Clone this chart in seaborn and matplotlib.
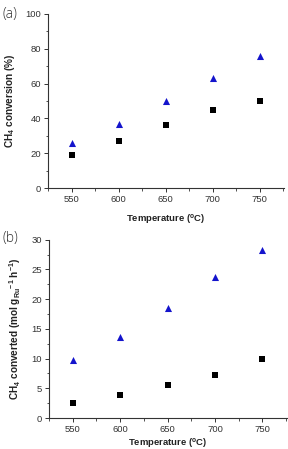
import matplotlib
matplotlib.use("Agg")
import matplotlib.pyplot as plt
import seaborn as sns
import pandas as pd
from matplotlib.ticker import MultipleLocator

temps = [550, 600, 650, 700, 750]
conv_square = [19, 27, 36.2, 44.8, 50.3]
conv_triangle = [26, 36.8, 50, 63, 76]
rate_square = [2.5, 3.8, 5.5, 7.3, 10.0]
rate_triangle = [9.8, 13.7, 18.6, 23.7, 28.3]

sns.set_theme(style="ticks")
plt.rcParams['font.family'] = ['Liberation Sans', 'DejaVu Sans']
plt.rcParams['mathtext.fontset'] = 'custom'
plt.rcParams['mathtext.rm'] = 'Liberation Sans'
plt.rcParams['mathtext.bf'] = 'Liberation Sans:bold'

fig = plt.figure(figsize=(2.88, 4.49), dpi=100)
ax1 = fig.add_axes([0.167, 0.581, 0.819, 0.388])
ax2 = fig.add_axes([0.170, 0.069, 0.827, 0.397])

df1 = pd.DataFrame({"T": temps, "sq": conv_square, "tri": conv_triangle})
df2 = pd.DataFrame({"T": temps, "sq": rate_square, "tri": rate_triangle})

for ax, df in [(ax1, df1), (ax2, df2)]:
    sns.scatterplot(data=df, x="T", y="sq", ax=ax, marker="s", color="black",
                    s=16, linewidth=0)
    sns.scatterplot(data=df, x="T", y="tri", ax=ax, marker="^", color="#1414cc",
                    s=26, linewidth=0)
    ax.set_xlim(525, 776)
    ax.xaxis.set_major_locator(MultipleLocator(50))
    ax.xaxis.set_minor_locator(MultipleLocator(25))
    for s in ["top", "right"]:
        ax.spines[s].set_visible(False)
    for s in ["left", "bottom"]:
        ax.spines[s].set_linewidth(0.8)
        ax.spines[s].set_color("#333333")
    ax.tick_params(which="major", direction="out", length=3, width=0.7,
                   labelsize=6.8, colors="#333333", pad=2)
    ax.tick_params(which="minor", direction="out", length=1.8, width=0.6,
                   colors="#333333")

ax1.set_xlabel("Temperature ($^\\mathbf{o}$C)", fontsize=6.8, fontweight="bold",
               color="#222222", labelpad=6)
ax2.set_xlabel("Temperature ($^\\mathbf{o}$C)", fontsize=6.8, fontweight="bold",
               color="#222222", labelpad=1.5)

ax1.set_ylim(0, 100)
ax1.yaxis.set_major_locator(MultipleLocator(20))
ax1.yaxis.set_minor_locator(MultipleLocator(10))
ax1.set_ylabel("CH$_\\mathbf{4}$ conversion (%)", fontsize=7.2, fontweight="bold",
               color="#222222", labelpad=6)

ax2.set_ylim(0, 30)
ax2.yaxis.set_major_locator(MultipleLocator(5))
ax2.yaxis.set_minor_locator(MultipleLocator(2.5))
ax2.set_ylabel("CH$_\\mathbf{4}$ converted (mol g$_\\mathbf{Ru}$$^\\mathbf{-1}$ h$^\\mathbf{-1}$)",
               fontsize=7.2, fontweight="bold", color="#222222", labelpad=6)

fig.text(0.008, 0.967, "(a)", fontsize=10, color="#333333", va="center",
         family=["Open Sans", "DejaVu Sans"], fontweight="light")
fig.text(0.008, 0.468, "(b)", fontsize=10, color="#333333", va="center",
         family=["Open Sans", "DejaVu Sans"], fontweight="light")

fig.savefig("out.png", dpi=100)
